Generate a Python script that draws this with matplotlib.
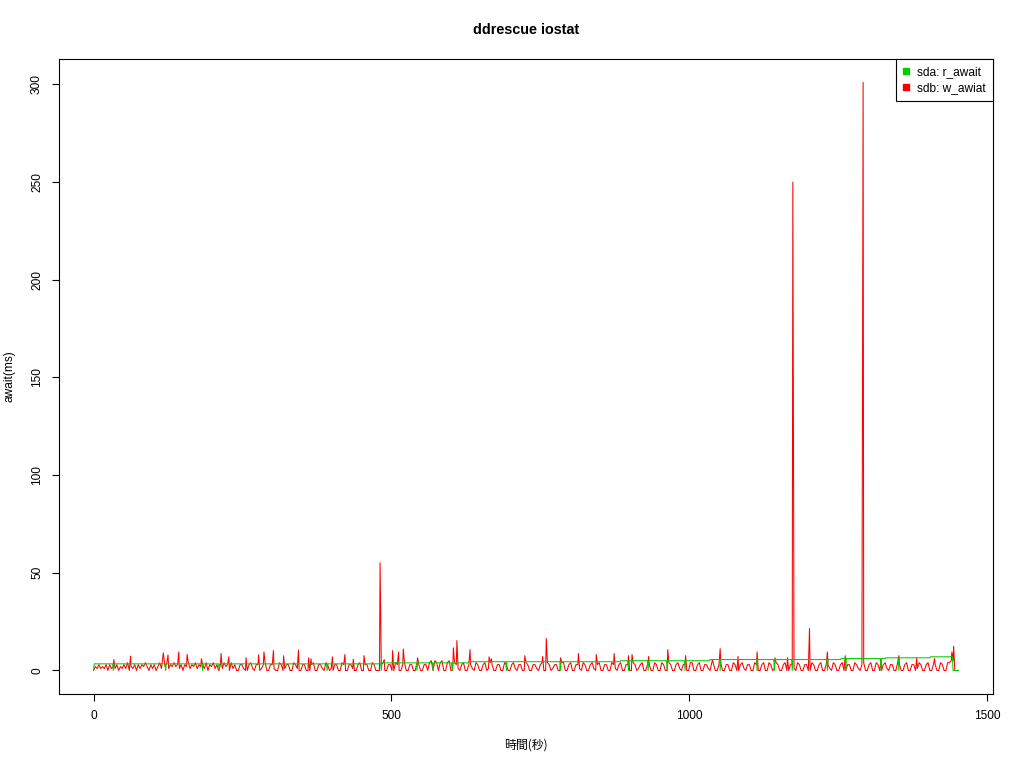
import numpy as np
import matplotlib
matplotlib.use("Agg")
import matplotlib.pyplot as plt
from matplotlib.lines import Line2D

plt.rcParams['font.family'] = ['Liberation Sans', 'Noto Sans CJK JP', 'DejaVu Sans']

# sdb w_await, sampled every 3 s, one row per 120 s (digits = ms)
red_rows = [
    "0213121303 1213021314 0213031324 2031302413",
    "2413242313 0324132413 2314032413 0314230413",
    "0033100341 0330134003 3100430133 0043100330",
    "0034003310 4301033004 3003310034 0033004300",
    "0340033004 3003400330 0430033045 0540450045",
    "0043103400 3310430034 0143003300 4300341033",
    "0043003310 3400430133 0044003400 3310430034",
    "1034003300 4310340033 0043013400 3300430043",
    "0043003410 3300440034 0033104300 3400330043",
    "0034103300 4300340043 0143003400 3310430033",
    "0043003400 3310430034 0033004310 3400340043",
    "0034103300 4300340033 0143003400 3300430044",
    "55000",
]
# spikes (seconds, ms)
red_spike_t = [34, 62, 117, 125, 143, 157, 181, 214, 227, 256, 277, 286, 302, 319,
               344, 361, 365, 401, 422, 436, 454, 481, 488, 502, 512, 520, 544, 604,
               610, 632, 664, 668, 724, 754, 760, 784, 814, 844, 874, 898, 904, 932,
               964, 994, 1039, 1052, 1082, 1114, 1144, 1165, 1174, 1202, 1232, 1262,
               1292, 1322, 1352, 1382, 1412, 1441, 1444]
red_spike_v = [5.6, 7.3, 9.0, 8.0, 9.4, 8.2, 6.0, 8.7, 7.0, 6.5, 8.0, 9.5, 10.2, 7.5,
               10.5, 6.5, 6.0, 7.0, 8.2, 5.8, 7.6, 55.2, 5.6, 10.2, 9.4, 11.0, 6.5, 11.6,
               15.3, 10.7, 7.0, 6.0, 7.6, 7.2, 16.4, 6.5, 8.7, 8.2, 8.7, 7.6, 8.2, 7.2,
               10.7, 7.6, 5.6, 11.2, 7.2, 9.5, 6.5, 6.5, 250.0, 21.5, 9.5, 7.6,
               301.0, 6.1, 7.6, 6.5, 6.1, 9.5, 12.4]

# sda r_await: level per period, with single-second drops to 0
green_level_t = [0, 480, 630, 885, 1035, 1255, 1330, 1405]
green_level_v = [3.4, 3.9, 4.5, 5.0, 5.6, 6.1, 6.5, 7.0]
green_drop_t = [0, 33, 121, 183, 211, 392, 483, 543, 570, 602, 693, 784, 898, 931,
                963, 993, 1052, 1114, 1143, 1173, 1232, 1263, 1322, 1352]
green_stop_t = 1443
end_t = 1452

red_t, red_v = [], []
for k, row in enumerate(red_rows):
    for j, ch in enumerate(row.replace(" ", "")):
        red_t.append(120 * k + 3 * j)
        red_v.append(float(ch))
# put the spikes in at their own times
keep = [t not in red_spike_t for t in red_t]
red_t = np.concatenate([np.array(red_t)[keep], red_spike_t])
red_v = np.concatenate([np.array(red_v)[keep], red_spike_v])
order = np.argsort(red_t, kind='stable')
red_t, red_v = red_t[order], red_v[order]

green_t = np.arange(0, end_t + 1)
green_v = np.array(green_level_v)[np.searchsorted(green_level_t, green_t, side='right') - 1]
green_v[np.isin(green_t, green_drop_t)] = 0
green_v[green_t >= green_stop_t] = 0

fig = plt.figure(figsize=(10.24, 7.68), dpi=100)
ax = fig.add_axes((59 / 1024, 74 / 768, 934 / 1024, 635 / 768))

ax.plot(red_t, red_v, color='#FF0000', lw=0.75)
ax.plot(green_t, green_v, color='#00CD00', lw=0.75)

ax.margins(x=0.04, y=0.04)
ax.set_xticks([0, 500, 1000, 1500])
ax.set_yticks(range(0, 301, 50))

ax.tick_params(direction='out', length=5, width=0.8, pad=6.5, labelsize=8.6)
for lbl in ax.get_yticklabels():
    lbl.set_rotation(90)
    lbl.set_va('center')

for sp in ax.spines.values():
    sp.set_linewidth(0.8)
    sp.set_color('black')

fig.text(526 / 1024, 1 - 30 / 768, 'ddrescue iostat', ha='center', va='center',
         fontsize=10.4, fontweight='bold')
ax.set_xlabel('時間(秒)', fontsize=8.6, family=['Noto Sans CJK JP', 'DejaVu Sans'])
ax.xaxis.set_label_coords(0.5, -0.080)
ax.xaxis.label.set_va('center')
ax.set_ylabel('await(ms)', fontsize=8.6)
ax.yaxis.set_label_coords(-0.0535, 0.5)
ax.yaxis.label.set_va('center')

handles = [Line2D([], [], marker='s', ls='none', color='#00CD00', markersize=4.5),
           Line2D([], [], marker='s', ls='none', color='#FF0000', markersize=4.5)]
leg = ax.legend(handles, ['sda: r_await', 'sdb: w_awiat'], loc='upper right',
                borderaxespad=0, fancybox=False, edgecolor='black', framealpha=1,
                fontsize=8.6, handlelength=0.6, handletextpad=0.6, borderpad=0.6,
                labelspacing=0.3)
leg.get_frame().set_linewidth(0.8)

fig.savefig('out.png', dpi=100)
